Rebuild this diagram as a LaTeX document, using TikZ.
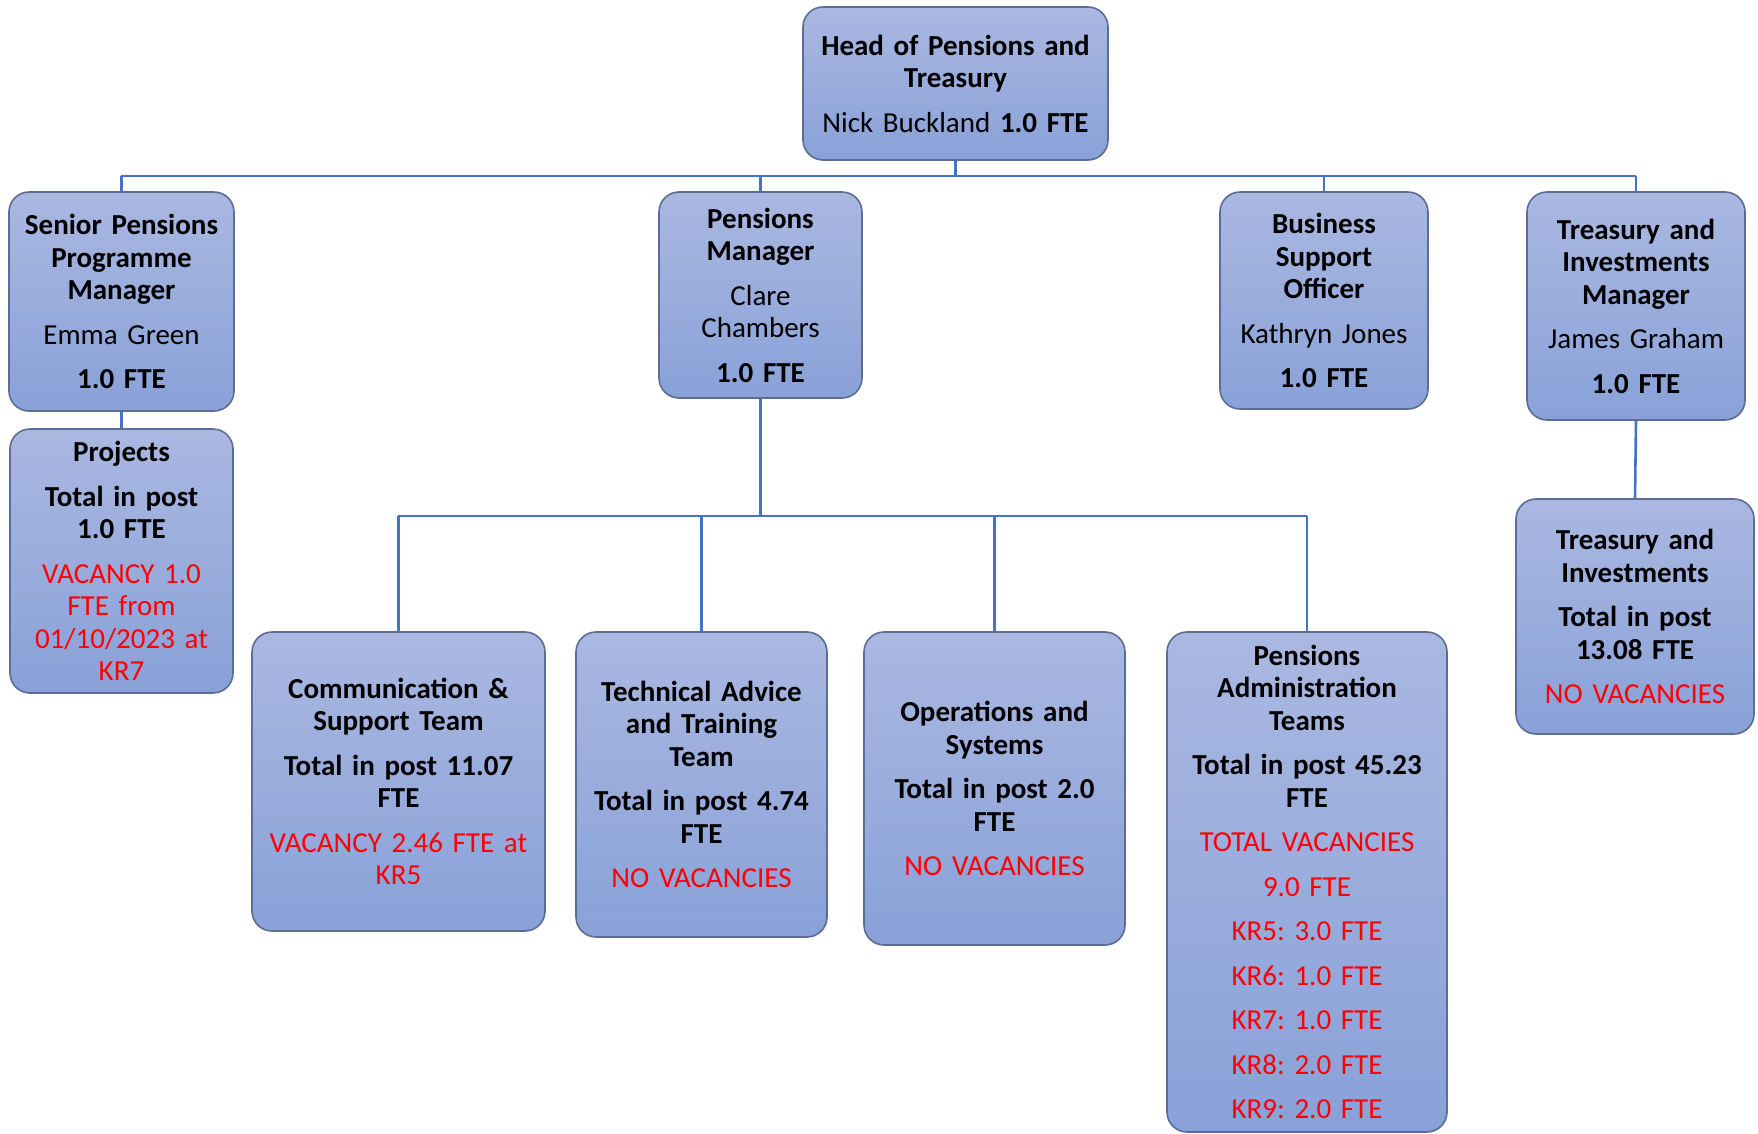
\documentclass[tikz,border=0pt]{standalone}
\usepackage{fontspec}
\setmainfont{Carlito}[WordSpace=0.92]
\definecolor{boxtop}{RGB}{170,184,225}
\definecolor{boxbot}{RGB}{137,161,216}
\definecolor{boxline}{RGB}{92,108,150}
\definecolor{conncol}{RGB}{68,114,196}
\definecolor{vred}{RGB}{255,0,0}
\newcommand\gp{\\[12pt]}
\newcommand\rd[1]{\textcolor{vred}{#1}}
\newcommand\obox[6]{%
  \pgfmathsetmacro\bw{#4-#2}\pgfmathsetmacro\bh{#5-#3}\pgfmathsetmacro\tw{#4-#2-8}%
  \pgfmathsetmacro\cx{(#2+#4)/2}\pgfmathsetmacro\cy{(#3+#5)/2}%
  \node[obox, minimum width=\bw pt, minimum height=\bh pt, text width=\tw pt] (#1) at (\cx,\cy) {#6};}
\tikzset{
  obox/.style={rectangle, rounded corners=20pt, draw=boxline, line width=1.6pt,
    top color=boxtop, bottom color=boxbot, align=center, inner sep=0pt,
    font=\fontsize{29}{32.5}\selectfont\frenchspacing},
  conn/.style={draw=conncol, line width=2.6pt}
}
\begin{document}
\begin{tikzpicture}[x=1pt,y=-1pt]
\useasboundingbox (0,0) rectangle (1758,1133);
\coordinate (busL) at (121,176);
\coordinate (busR) at (1636,176);
\coordinate (bus2L) at (398,516);
\coordinate (bus2R) at (1307,516);

\obox{head}{803}{7}{1108}{160}{\textbf{Head of Pensions and\\Treasury}\gp Nick Buckland \textbf{1.0 FTE}}
\obox{senior}{9}{192}{234}{411}{\textbf{Senior Pensions\\Programme\\Manager}\gp Emma Green\gp\textbf{1.0 FTE}}
\obox{projects}{10}{429}{233}{693}{\textbf{Projects}\gp\textbf{Total in post\\1.0 FTE}\gp\rd{VACANCY 1.0\\FTE from\\01/10/2023 at\\KR7}}
\obox{pm}{659}{192}{862}{398}{\textbf{Pensions\\Manager}\gp Clare\\Chambers\gp\textbf{1.0 FTE}}
\obox{bso}{1220}{192}{1428}{409}{\textbf{Business\\Support\\Officer}\gp Kathryn Jones\gp\textbf{1.0 FTE}}
\obox{tim}{1527}{192}{1745}{420}{\textbf{Treasury and\\Investments\\Manager}\gp James Graham\gp\textbf{1.0 FTE}}
\obox{ti}{1516}{499}{1754}{734}{\textbf{Treasury and\\Investments}\gp\textbf{Total in post\\13.08 FTE}\gp\rd{NO VACANCIES}}
\obox{comm}{252}{632}{545}{931}{\textbf{Communication \&\\Support Team}\gp\textbf{Total in post 11.07\\FTE}\gp\rd{VACANCY 2.46 FTE at\\KR5}}
\obox{tech}{576}{632}{827}{937}{\textbf{Technical Advice\\and Training\\Team}\gp\textbf{Total in post 4.74\\FTE}\gp\rd{NO VACANCIES}}
\obox{ops}{864}{632}{1125}{945}{\textbf{Operations and\\Systems}\gp\textbf{Total in post 2.0\\FTE}\gp\rd{NO VACANCIES}}
\obox{pat}{1167}{632}{1447}{1132}{\textbf{Pensions\\Administration\\Teams}\gp\textbf{Total in post 45.23\\FTE}\gp\rd{TOTAL VACANCIES}\gp\rd{9.0 FTE}\gp\rd{KR5: 3.0 FTE}\gp\rd{KR6: 1.0 FTE}\gp\rd{KR7: 1.0 FTE}\gp\rd{KR8: 2.0 FTE}\gp\rd{KR9: 2.0 FTE}}

\draw[conn] (busL) -- (busR);
\draw[conn] (head.south) -- (head.south |- busL);
\draw[conn] (senior.north) -- (senior.north |- busL);
\draw[conn] (pm.north) -- (pm.north |- busL);
\draw[conn] (bso.north) -- (bso.north |- busL);
\draw[conn] (tim.north) -- (tim.north |- busL);
\draw[conn] (senior.south) -- (projects.north);
\draw[conn] (tim.south) -- (ti.north);
\draw[conn] (pm.south) -- (pm.south |- bus2L);
\draw[conn] (bus2L) -- (bus2R);
\draw[conn] (comm.north) -- (comm.north |- bus2L);
\draw[conn] (tech.north) -- (tech.north |- bus2L);
\draw[conn] (ops.north) -- (ops.north |- bus2L);
\draw[conn] (pat.north) -- (pat.north |- bus2L);
\end{tikzpicture}
\end{document}
